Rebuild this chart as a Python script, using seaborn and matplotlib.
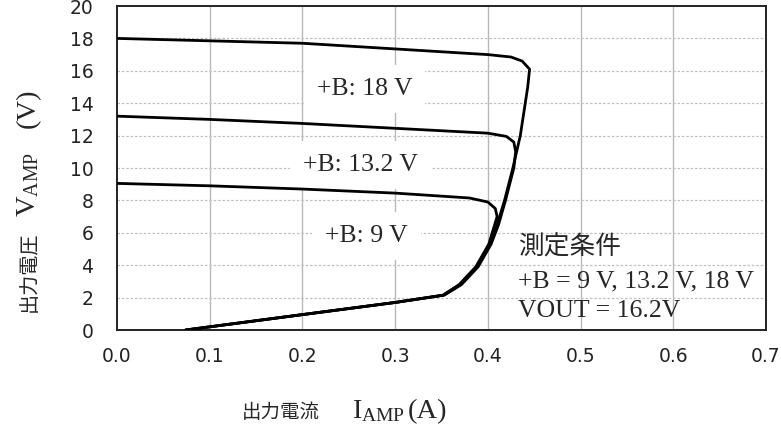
import pandas as pd
import matplotlib
matplotlib.use("Agg")
import matplotlib.pyplot as plt
from matplotlib.ticker import MultipleLocator
import seaborn as sns

# Output current / output voltage curves for each supply voltage
i_18 = [0.0, 0.1, 0.2, 0.3, 0.4, 0.425, 0.437, 0.445, 0.443, 0.435, 0.427, 0.418,
        0.41, 0.402, 0.388, 0.37, 0.352, 0.3, 0.2, 0.074]
v_18 = [18.0, 17.85, 17.7, 17.35, 17.0, 16.85, 16.6, 16.1, 15.0, 12.0, 10.0, 8.0,
        6.5, 5.3, 3.9, 2.8, 2.15, 1.7, 0.95, 0.0]

i_132 = [0.0, 0.1, 0.2, 0.3, 0.4, 0.42, 0.428, 0.43, 0.428, 0.419,
         0.4115, 0.4035, 0.3895, 0.3715, 0.353, 0.3, 0.2, 0.074]
v_132 = [13.2, 13.0, 12.75, 12.45, 12.15, 11.95, 11.6, 11.0, 10.0, 8.0,
         6.5, 5.3, 3.9, 2.8, 2.15, 1.7, 0.95, 0.0]

i_9 = [0.0, 0.1, 0.2, 0.3, 0.38, 0.4, 0.408, 0.41, 0.401, 0.387, 0.369, 0.3515, 0.3, 0.2, 0.074]
v_9 = [9.05, 8.9, 8.7, 8.45, 8.15, 7.9, 7.5, 7.0, 5.3, 3.9, 2.8, 2.15, 1.7, 0.95, 0.0]

series_names = ["+B: 18 V", "+B: 13.2 V", "+B: 9 V"]
x_ticks = [0.0, 0.1, 0.2, 0.3, 0.4, 0.5, 0.6, 0.7]
y_ticks = [0, 2, 4, 6, 8, 10, 12, 14, 16, 18, 20]
cond_lines = ["測定条件", "+B = 9 V, 13.2 V, 18 V", "VOUT = 16.2V"]

frames = []
for name, xs, ys in zip(series_names, [i_18, i_132, i_9], [v_18, v_132, v_9]):
    frames.append(pd.DataFrame({"I": xs, "V": ys, "B": name}))
df = pd.concat(frames, ignore_index=True)

sns.set_theme(style="white")
plt.rcParams["font.family"] = ["Liberation Serif", "Noto Sans CJK JP"]
plt.rcParams["mathtext.fontset"] = "custom"
plt.rcParams["mathtext.rm"] = "Liberation Serif"

W, H = 781, 428
fig = plt.figure(figsize=(W / 100, H / 100), dpi=100)
ax = fig.add_axes([117 / W, 1 - 330 / H, 649 / W, 324 / H])

for name in series_names:
    sub = df[df["B"] == name]
    sns.lineplot(data=sub, x="I", y="V", sort=False, color="black", lw=2.0,
                 ax=ax, legend=False, estimator=None, zorder=4)
ax.set_xlabel("")
ax.set_ylabel("")

ax.set_xlim(0, 0.7)
ax.set_ylim(0, 20)
ax.xaxis.set_minor_locator(MultipleLocator(0.01))
ax.yaxis.set_minor_locator(MultipleLocator(0.25))

ax.grid(False)
for xv in x_ticks[1:-1]:
    ax.axvline(xv, color="#b8b8b8", lw=1.0, zorder=0)
for yv in y_ticks[1:-1]:
    ax.axhline(yv, color="#c0c0c0", lw=0.9, ls=(0, (2, 1.5)), zorder=0)

for s in ax.spines.values():
    s.set_color("#222222")
    s.set_linewidth(1.4)

ax.tick_params(axis="both", which="both", direction="in", colors="#555555",
               labelcolor="#222222", top=False, right=False)
ax.tick_params(which="major", length=5, width=0.8)
ax.tick_params(which="minor", length=4, width=0.8)
ax.tick_params(axis="x", which="major", pad=12)
ax.tick_params(axis="y", which="major", pad=17)
ax.set_xticks(x_ticks)
ax.set_xticklabels([f"{v:.1f}" for v in x_ticks], family="DejaVu Sans", fontsize=13.5)
ax.set_yticks(y_ticks)
ax.set_yticklabels([str(v) for v in y_ticks], family="DejaVu Sans", fontsize=13.5)

# curve labels on white boxes that hide the grid behind them
box = dict(boxstyle="square,pad=0.5", facecolor="white", edgecolor="none")
label_pos = [(0.267, 14.5), (0.263, 9.8), (0.269, 5.43)]
for name, (lx, ly) in zip(series_names, label_pos):
    ax.text(lx, ly, name, ha="center", va="baseline", fontsize=18.5, bbox=box, zorder=3)

# measurement conditions
for t, ly in zip(cond_lines, [4.65, 2.65, 0.8]):
    ax.text(0.433, ly, t, ha="left", va="baseline", fontsize=18.5, zorder=3,
            family=["Liberation Serif", "Noto Sans CJK JP"])

# x axis title: CJK words followed by the serif symbol with subscript
base = 1 - 418 / H
fig.text(242 / W, base, "出力電流", ha="left", va="baseline", fontsize=14,
         family="Noto Sans CJK JP")
fig.text(352 / W, base, "$\\mathrm{I_{AMP}}$", ha="left", va="baseline", fontsize=20)
fig.text(408 / W, base, "(A)", ha="left", va="baseline", fontsize=20.5)

# y axis title, reading upward
bx = 35 / W
fig.text(bx, 1 - 312 / H, "出力電圧", ha="left", va="baseline", rotation=90,
         rotation_mode="anchor", fontsize=14.5, family="Noto Sans CJK JP")
fig.text(bx, 1 - 217 / H, "$\\mathrm{V_{AMP}}$", ha="left", va="baseline", rotation=90,
         rotation_mode="anchor", fontsize=20.5)
fig.text(bx, 1 - 128 / H, "(V)", ha="left", va="baseline", rotation=90,
         rotation_mode="anchor", fontsize=20.5)

fig.savefig("out.png", dpi=100)
